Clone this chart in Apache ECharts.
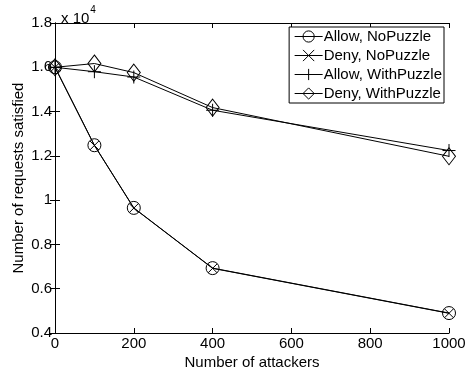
<!DOCTYPE html>
<html>
<head>
<meta charset="utf-8">
<script src="https://cdn.jsdelivr.net/npm/echarts@6/dist/echarts.min.js"></script>
<style>
  html, body { margin: 0; padding: 0; background: #fff; }
  #chart { width: 469px; height: 375px; }
</style>
</head>
<body>
<div id="chart"></div>
<script>
// attackers on the x axis
const attackers = [0, 100, 200, 400, 1000];

// requests satisfied (raw counts, axis shows x 10^4)
const allowNoPuzzle = [16000, 12480, 9650, 6930, 4900];
const denyNoPuzzle = [16000, 12470, 9640, 6920, 4890];
const allowWithPuzzle = [16000, 15800, 15560, 14060, 12240];
const denyWithPuzzle = [16000, 16170, 15760, 14180, 11980];

const seriesNames = ['Allow, NoPuzzle', 'Deny, NoPuzzle', 'Allow, WithPuzzle', 'Deny, WithPuzzle'];

const FONT = 'Liberation Sans, Arial, Helvetica, sans-serif';
const FS = 15;
const CROSS = 'path://M0,0L10,10M10,0L0,10';
const PLUS = 'path://M5,0L5,10M0,5L10,5';

function pairs(values) {
  return attackers.map((x, i) => [x, values[i]]);
}

function lineSeries(name, values, symbol, symbolSize) {
  return {
    name,
    type: 'line',
    data: pairs(values),
    symbol,
    symbolSize,
    showAllSymbol: true,
    lineStyle: { color: '#000', width: 1 },
    itemStyle: { color: 'transparent', borderColor: '#000', borderWidth: 1 },
    emphasis: { disabled: true },
    animation: false,
  };
}

const chart = echarts.init(document.getElementById('chart'), null, { renderer: 'canvas' });

const tickStyle = { inside: true, length: 5, lineStyle: { color: '#000', width: 1 } };
const axisLineStyle = { show: true, lineStyle: { color: '#000', width: 1 } };

chart.setOption({
  backgroundColor: '#fff',
  animation: false,
  textStyle: { fontFamily: FONT },
  title: {
    text: '{a|x 10}{b|4}',
    left: 56,
    top: 0,
    textStyle: {
      fontWeight: 'normal',
      rich: {
        a: { fontFamily: FONT, fontSize: FS, fontWeight: 'normal', color: '#000', verticalAlign: 'bottom', padding: [6, 0, 0, 0] },
        b: { fontFamily: FONT, fontSize: 10, fontWeight: 'normal', color: '#000', verticalAlign: 'top', padding: [0, 0, 0, 1] },
      },
    },
  },
  grid: { left: 55, right: 20, top: 23, bottom: 42, containLabel: false, outerBoundsMode: 'none' },
  legend: {
    orient: 'vertical',
    right: 25,
    top: 27,
    data: seriesNames,
    itemWidth: 28,
    itemHeight: 14,
    itemGap: 4,
    padding: [2, 2, 2, 5],
    borderColor: '#000',
    borderWidth: 1,
    backgroundColor: '#fff',
    lineStyle: { width: 1 },
    itemStyle: { borderWidth: 1 },
    textStyle: { fontFamily: FONT, fontSize: FS, color: '#000', padding: [0, 0, 0, -4] },
  },
  xAxis: [
    {
      type: 'value',
      min: 0,
      max: 1000,
      interval: 200,
      name: 'Number of attackers',
      nameLocation: 'middle',
      nameGap: 22,
      nameMoveOverlap: false,
      nameTextStyle: { fontFamily: FONT, fontSize: FS, color: '#000' },
      axisLine: axisLineStyle,
      axisTick: tickStyle,
      axisLabel: { fontFamily: FONT, fontSize: FS, color: '#000', margin: 3, formatter: v => String(v) },
      splitLine: { show: false },
    },
    {
      type: 'value',
      position: 'top',
      min: 0,
      max: 1000,
      interval: 200,
      axisLine: axisLineStyle,
      axisTick: tickStyle,
      axisLabel: { show: false },
      splitLine: { show: false },
    },
  ],
  yAxis: [
    {
      type: 'value',
      min: 4000,
      max: 18000,
      interval: 2000,
      name: 'Number of requests satisfied',
      nameLocation: 'middle',
      nameGap: 29,
      nameMoveOverlap: false,
      nameTextStyle: { fontFamily: FONT, fontSize: FS, color: '#000' },
      axisLine: axisLineStyle,
      axisTick: tickStyle,
      axisLabel: {
        fontFamily: FONT,
        fontSize: FS,
        color: '#000',
        margin: 3,
        formatter: v => String(v / 10000),
      },
      splitLine: { show: false },
    },
    {
      type: 'value',
      position: 'right',
      min: 4000,
      max: 18000,
      interval: 2000,
      axisLine: axisLineStyle,
      axisTick: tickStyle,
      axisLabel: { show: false },
      splitLine: { show: false },
    },
  ],
  series: [
    lineSeries(seriesNames[0], allowNoPuzzle, 'circle', 13),
    lineSeries(seriesNames[1], denyNoPuzzle, CROSS, 9),
    lineSeries(seriesNames[2], allowWithPuzzle, PLUS, 13),
    lineSeries(seriesNames[3], denyWithPuzzle, 'diamond', [13, 17]),
  ],
});
</script>
</body>
</html>
